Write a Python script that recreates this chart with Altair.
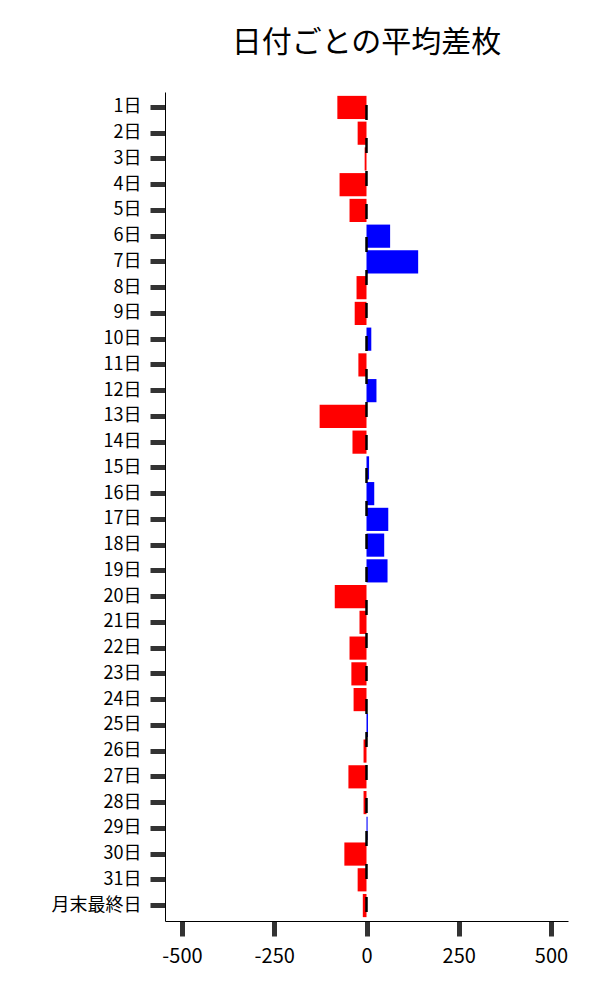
import altair as alt
import pandas as pd

days = [f"{i}日" for i in range(1, 32)] + ["月末最終日"]
values = [-79, -24, -5, -73, -46, 64, 140, -27, -32, 13, -22, 27, -127, -38, 7,
          21, 59, 48, 57, -86, -19, -46, -41, -35, 4, -8, -49, -8, 3, -60, -24, -10]

df = pd.DataFrame({"day": days, "value": values})
df["sign"] = ["neg" if v < 0 else "pos" for v in values]

FONT = "Noto Sans CJK JP"

y_enc = alt.Y("day:N", sort=days, title=None,
              scale=alt.Scale(paddingInner=0.1, paddingOuter=0.15),
              axis=alt.Axis(labelFontSize=18, labelFont=FONT, labelColor="black",
                            tickSize=15, tickWidth=5, tickColor="#333333",
                            labelPadding=9, domainColor="black", domainWidth=1,
                            grid=False))

x_scale = alt.Scale(domain=[-546, 546], nice=False, zero=False)

bars = alt.Chart(df).mark_bar().encode(
    y=y_enc,
    x=alt.X("value:Q", title=None, scale=x_scale,
            axis=alt.Axis(values=[-500, -250, 0, 250, 500], labelFontSize=20,
                          labelFont=FONT, labelColor="black", tickSize=15,
                          tickWidth=5, tickColor="#333333", labelPadding=10,
                          labelExpr="toString(datum.value)",
                          domainColor="black", domainWidth=1, grid=False)),
    x2=alt.datum(0),
    color=alt.Color("sign:N", scale=alt.Scale(domain=["neg", "pos"],
                                              range=["#ff0000", "#0000ff"]),
                    legend=None),
)

zero_df = pd.DataFrame({"z": [0]})
rule = alt.Chart(zero_df).mark_rule(color="black", strokeWidth=2.5,
                                    strokeDash=[15, 18], strokeDashOffset=20).encode(
    x=alt.X("z:Q", scale=x_scale),
)

chart = alt.layer(bars, rule).properties(
    width=403,
    height=829,
    title=alt.TitleParams("日付ごとの平均差枚", fontSize=30, font=FONT,
                          fontWeight="normal", anchor="middle", color="black",
                          offset=33),
    autosize=alt.AutoSizeParams(type="none"),
    padding={"left": 157, "top": 84, "right": 24, "bottom": 71},
).configure_view(stroke=None)

chart.save("out.html", embed_options={"renderer": "svg", "actions": False})
